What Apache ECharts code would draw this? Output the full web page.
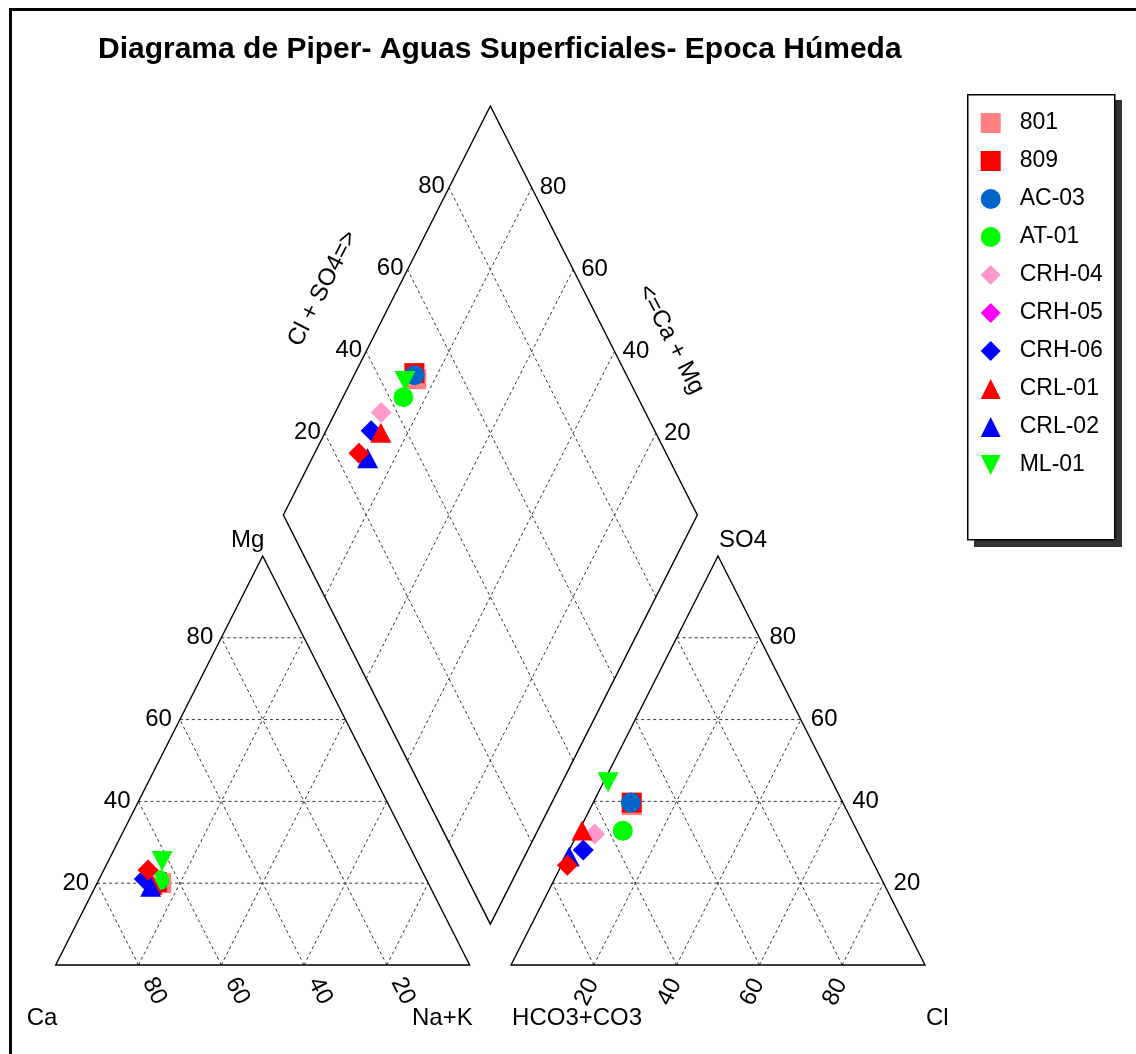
<!DOCTYPE html>
<html>
<head>
<meta charset="utf-8">
<script src="https://cdn.jsdelivr.net/npm/echarts@6/dist/echarts.min.js"></script>
<style>
  html, body { margin: 0; padding: 0; background: #fff; }
  #chart { width: 1136px; height: 1054px; }
</style>
</head>
<body>
<div id="chart"></div>
<script>
// Sample identifiers
const samples = ['801', '809', 'AC-03', 'AT-01', 'CRH-04', 'CRH-05', 'CRH-06', 'CRL-01', 'CRL-02', 'ML-01'];

// Cations (% meq/L)
const ca  = [64.5, 65.4, 64.8, 64.6, 67.4, 66.1, 68.1, 66.9, 67.5, 61.6];
const mg  = [20.0, 20.3, 20.6, 20.8, 21.5, 23.2, 21.0, 19.6, 19.1, 25.4];
const naK = [15.5, 14.3, 14.6, 14.6, 11.1, 10.7, 10.9, 13.5, 13.4, 13.0];

// Anions (% meq/L)
const hco3 = [51.3, 51.0, 51.2, 56.6, 63.8, 74.2, 68.5, 66.4, 72.7, 54.2];
const so4  = [39.1, 39.7, 39.7, 32.8, 32.0, 24.4, 28.1, 32.9, 26.5, 44.7];
const cl   = [ 9.6,  9.3,  9.1, 10.6,  4.2,  1.4,  3.4,  0.7,  0.8,  1.1];

// Grid / tick values
const gridTicks = [20, 40, 60, 80];

// Marker styles
const DOWN_TRIANGLE = 'path://M0,0L10,0L5,10Z';
const symbols = ['rect', 'rect', 'circle', 'circle', 'diamond', 'diamond', 'diamond', 'triangle', 'triangle', DOWN_TRIANGLE];
const symbolSizes = [20, 20, 20, 20, 21, 21, 21, [21, 20], [21, 20], [21, 20]];
const legendColors = ['#FF8080', '#FF0000', '#0066CC', '#00FF00', '#FF99CC', '#FF00FF', '#0000FF', '#FF0000', '#0000FF', '#00FF00'];
const markerColors = ['#FF8080', '#FF0000', '#0066CC', '#00FF00', '#FF99CC', '#FF0000', '#0000FF', '#FF0000', '#0000FF', '#00FF00'];

const FONT = '"Liberation Sans", Arial, Helvetica, sans-serif';

// Layout in diagram units: each triangle has base 100 and height 100,
// the two triangles are separated by a gap of 10, the diamond sits above.
const GAP = 10;
const R0 = 100 + GAP;              // left corner of the anion triangle
const DB = [R0 - GAP / 2, GAP];     // bottom vertex of the diamond

function cationXY(i) {
  const s = ca[i] + mg[i] + naK[i];
  const m = 100 * mg[i] / s, n = 100 * naK[i] / s;
  return [n + m / 2, m];
}
function anionXY(i) {
  const s = hco3[i] + so4[i] + cl[i];
  const su = 100 * so4[i] / s, c = 100 * cl[i] / s;
  return [R0 + c + su / 2, su];
}
// a = fraction of Ca+Mg, c = fraction of Cl+SO4
function diamondAt(a, c) {
  return [DB[0] + 50 * (c - a), DB[1] + 100 * (a + c)];
}
function diamondXY(i) {
  const sc = ca[i] + mg[i] + naK[i];
  const sa = hco3[i] + so4[i] + cl[i];
  return diamondAt((ca[i] + mg[i]) / sc, (cl[i] + so4[i]) / sa);
}

function renderFrame(params, api) {
  const P = (p) => api.coord(p);
  const children = [];
  const solid = { stroke: '#000', lineWidth: 1.4, fill: 'none' };
  const dashed = { stroke: '#333', lineWidth: 1, lineDash: [3, 3], fill: 'none' };
  const seg = (a, b, style) => {
    const pa = P(a), pb = P(b);
    children.push({ type: 'line', shape: { x1: pa[0], y1: pa[1], x2: pb[0], y2: pb[1] }, style: style });
  };
  const poly = (pts, style) => {
    children.push({ type: 'polygon', shape: { points: pts.map(P) }, style: style });
  };
  const txt = (pt, dx, dy, text, align, rotDeg) => {
    const p = P(pt);
    children.push({
      type: 'text', x: p[0] + dx, y: p[1] + dy,
      rotation: (rotDeg || 0) * Math.PI / 180,
      style: { text: text, fontSize: 24, fontFamily: FONT, fill: '#000',
               align: align || 'center', verticalAlign: 'middle' }
    });
  };

  gridTicks.forEach(k => {
    // cation triangle
    seg([k / 2, k], [100 - k / 2, k], dashed);
    seg([k, 0], [k + (100 - k) / 2, 100 - k], dashed);
    seg([100 - k, 0], [(100 - k) / 2, 100 - k], dashed);
    // anion triangle
    seg([R0 + k / 2, k], [R0 + 100 - k / 2, k], dashed);
    seg([R0 + k, 0], [R0 + k + (100 - k) / 2, 100 - k], dashed);
    seg([R0 + 100 - k, 0], [R0 + (100 - k) / 2, 100 - k], dashed);
    // diamond
    const t = k / 100;
    seg(diamondAt(t, 0), diamondAt(t, 1), dashed);
    seg(diamondAt(0, t), diamondAt(1, t), dashed);
  });

  poly([[0, 0], [100, 0], [50, 100]], solid);
  poly([[R0, 0], [R0 + 100, 0], [R0 + 50, 100]], solid);
  poly([diamondAt(0, 0), diamondAt(0, 1), diamondAt(1, 1), diamondAt(1, 0)], solid);

  gridTicks.forEach(k => {
    const t = k / 100;
    txt([k / 2, k], -8, 0, String(k), 'right');                   // Mg
    txt([k, 0], 16, 26, String(100 - k), 'center', -63);          // Ca
    txt([R0 + k, 0], -7, 27, String(k), 'center', 63);             // Cl
    txt([R0 + 100 - k / 2, k], 10, 0, String(k), 'left');         // SO4
    txt(diamondAt(1, t), -4, -1, String(k), 'right');             // Cl + SO4
    txt(diamondAt(t, 1), 8, 0, String(k), 'left');                // Ca + Mg
  });

  txt([0, 0], -29, 53, 'Ca', 'left');
  txt([100, 0], 3, 53, 'Na+K', 'right');
  txt([R0, 0], 1, 53, 'HCO3+CO3', 'left');
  txt([R0 + 100, 0], 1, 53, 'Cl', 'left');
  txt([50, 100], -15, -16, 'Mg', 'center');
  txt([R0 + 50, 100], 1, -16, 'SO4', 'left');
  txt(diamondAt(1, 0.5), -64, -22, 'Cl + SO4=>', 'center', 63);
  txt(diamondAt(0.5, 1), 77, 29, '<=Ca + Mg', 'center', -63);

  return { type: 'group', children: children };
}

const series = [{
  type: 'custom',
  name: 'frame',
  coordinateSystem: 'cartesian2d',
  clip: false,
  silent: true,
  z: 1,
  data: [[0, 0]],
  renderItem: renderFrame
}];

samples.forEach((name, i) => {
  const pts = [cationXY(i), anionXY(i), diamondXY(i)];
  series.push({
    type: 'scatter',
    name: name,
    symbol: symbols[i],
    symbolSize: symbolSizes[i],
    clip: false,
    z: name === 'CRH-05' ? 4 : 3,
    itemStyle: { color: legendColors[i], opacity: 1 },
    emphasis: { disabled: true },
    data: pts.map(p => ({ value: p, itemStyle: { color: markerColors[i] } }))
  });
});

const chart = echarts.init(document.getElementById('chart'), null, { renderer: 'canvas' });
chart.setOption({
  animation: false,
  backgroundColor: '#fff',
  title: {
    text: 'Diagrama de Piper- Aguas Superficiales- Epoca Húmeda',
    left: 98, top: 35, padding: 0,
    textStyle: { fontFamily: FONT, fontSize: 30, fontWeight: 'bold', color: '#000' }
  },
  grid: { left: 55.7, top: 106, width: 869.3, height: 859 },
  xAxis: { type: 'value', min: 0, max: 2 * 100 + GAP, show: false },
  yAxis: { type: 'value', min: 0, max: 2 * 100 + GAP, show: false },
  legend: {
    orient: 'vertical',
    left: 980.7, top: 111.5, padding: 0,
    itemWidth: 20, itemHeight: 20, itemGap: 15,
    selectedMode: false,
    data: samples.map((n, i) => ({ name: n, icon: symbols[i] })),
    textStyle: { fontFamily: FONT, fontSize: 23, color: '#000', padding: [0, 0, 0, 14] }
  },
  graphic: [
    { type: 'rect', left: 974, top: 100, z: 0, shape: { width: 148, height: 447 }, style: { fill: '#333' } },
    { type: 'rect', left: 967, top: 94, z: 0, shape: { width: 147, height: 445 }, style: { fill: '#fff', stroke: '#000', lineWidth: 1.5 } },
    { type: 'rect', left: 8, top: 7, z: 0, shape: { width: 1200, height: 1200 }, style: { fill: 'none', stroke: '#000', lineWidth: 3 } }
  ],
  series: series
});
</script>
</body>
</html>
